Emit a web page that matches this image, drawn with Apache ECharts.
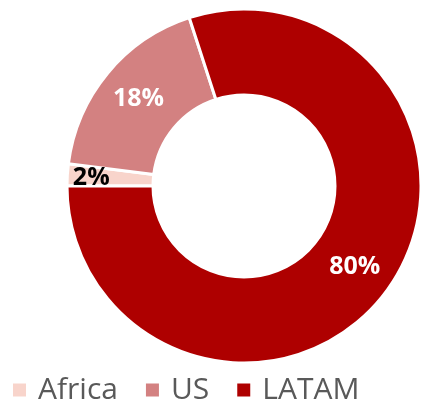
<!DOCTYPE html>
<html><head><meta charset="utf-8">
<script src="https://cdn.jsdelivr.net/npm/echarts@6/dist/echarts.min.js"></script>
<style>html,body{margin:0;padding:0;background:#fff}#c{width:421px;height:405px}</style>
</head><body><div id="c"></div>
<script>
const categories = ["Africa", "US", "LATAM"];
const values = [2, 18, 80];
const colors = ["#F8D4CB", "#D38181", "#AE0000"];
const labelColors = ["#000000", "#FFFFFF", "#FFFFFF"];

const chart = echarts.init(document.getElementById('c'));
chart.setOption({
  animation: false,
  legend: {
    top: 370, left: 6,
    itemWidth: 15, itemHeight: 15, itemGap: 26,
    icon: 'rect',
    textStyle: { fontFamily: 'Open Sans', fontSize: 30, color: '#595959', padding: [0,0,0,6] },
    data: categories
  },
  series: [{
    type: 'pie',
    center: [244, 186],
    radius: [91, 177],
    startAngle: 180,
    clockwise: true,
    avoidLabelOverlap: false,
    itemStyle: { borderColor: '#fff', borderWidth: 3 },
    label: {
      position: 'inside',
      formatter: '{c}%',
      fontFamily: 'Open Sans', fontWeight: 'bold', fontSize: 25
    },
    labelLine: { show: false },
    data: categories.map((n, i) => ({
      name: n, value: values[i],
      itemStyle: { color: colors[i] },
      label: i === 0 ? { color: labelColors[i], offset: [-16, 0] } : { color: labelColors[i] }
    }))
  }]
});
</script></body></html>
